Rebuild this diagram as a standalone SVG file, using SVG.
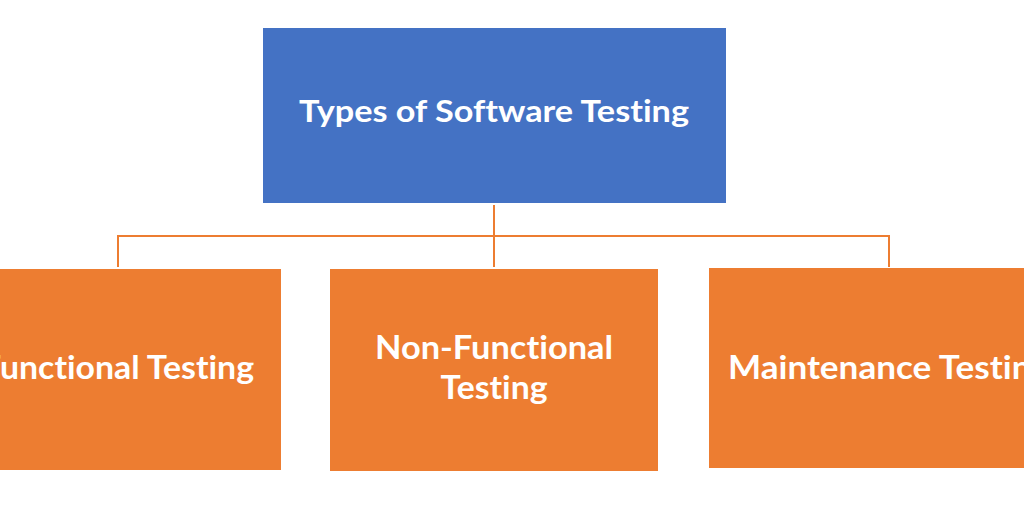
<svg xmlns="http://www.w3.org/2000/svg" width="1024" height="512" viewBox="0 0 1024 512">
  <style>
    .root { fill: #4472C4; }
    .child { fill: #ED7D31; }
    .lbl { font-family: Lato, "Open Sans", "Liberation Sans", sans-serif; font-weight: bold; fill: #FFFFFF; text-anchor: middle; font-variant-ligatures: none; }
    .conn { stroke: #ED7D31; stroke-width: 2; fill: none; }
  </style>
  <rect width="1024" height="512" fill="#FFFFFF"/>
  <g id="connectors">
    <line class="conn" x1="494" y1="205" x2="494" y2="267"/>
    <polyline class="conn" points="118,267 118,236 889,236 889,267"/>
  </g>
  <g id="node-root">
    <rect class="root" x="263" y="28" width="463" height="175"/>
    <text class="lbl" x="494" y="122" font-size="31" textLength="390" lengthAdjust="spacingAndGlyphs">Types of Software Testing</text>
  </g>
  <g id="node-functional">
    <rect class="child" x="-46" y="269" width="327" height="201"/>
    <text class="lbl" x="118" y="379" font-size="32" textLength="272" lengthAdjust="spacingAndGlyphs">Functional Testing</text>
  </g>
  <g id="node-nonfunctional">
    <rect class="child" x="330" y="269" width="328" height="202"/>
    <text class="lbl" x="494" y="359" font-size="32" textLength="238" lengthAdjust="spacingAndGlyphs">Non-Functional</text>
    <text class="lbl" x="494" y="399" font-size="32" textLength="107" lengthAdjust="spacingAndGlyphs">Testing</text>
  </g>
  <g id="node-maintenance">
    <rect class="child" x="709" y="268" width="360" height="200"/>
    <text class="lbl" x="889" y="379" font-size="32" textLength="322" lengthAdjust="spacingAndGlyphs">Maintenance Testing</text>
  </g>
</svg>
